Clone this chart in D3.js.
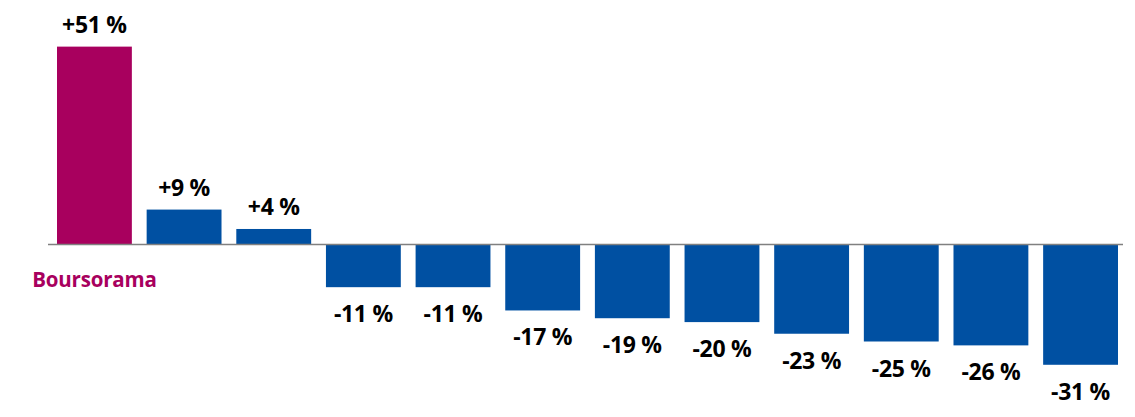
<!DOCTYPE html>
<html><head><meta charset="utf-8">
<script src="https://cdn.jsdelivr.net/npm/d3@7"></script>
<style>body{margin:0;background:#fff;} svg{display:block;}</style>
</head><body>
<svg id="chart" width="1135" height="417"></svg>
<script>
const categories = ["Boursorama","B2","B3","B4","B5","B6","B7","B8","B9","B10","B11","B12"];
const values = [51, 9, 4, -11, -11, -17, -19, -20, -23, -25, -26, -31];
const valueLabels = ["+51 %","+9 %","+4 %","-11 %","-11 %","-17 %","-19 %","-20 %","-23 %","-25 %","-26 %","-31 %"];
const shownCategory = "Boursorama";

const svg = d3.select("#chart");
const font = "'Open Sans', Lato, sans-serif";
const magenta = "#A8005E", blue = "#0050A2";

const x = d3.scaleBand().domain(categories).range([57, 1118]).paddingInner(0.165).paddingOuter(0);
const y = d3.scaleLinear().domain([-40, 60]).range([399.7, 11.7]);

svg.selectAll("rect.bar").data(values).join("rect")
  .attr("class","bar")
  .attr("x",(d,i)=>x(categories[i]))
  .attr("width",x.bandwidth())
  .attr("y",d=>Math.min(y(d),y(0)))
  .attr("height",d=>Math.abs(y(d)-y(0)))
  .attr("fill",(d,i)=>categories[i]===shownCategory?magenta:blue);

const axis = d3.axisBottom(x).tickSize(0).tickFormat(()=> "");
const ag = svg.append("g").attr("transform",`translate(0,${y(0)})`).call(axis);
ag.select(".domain").attr("d","M48,0H1123").attr("stroke","#808080").attr("stroke-width",1.5);

svg.selectAll("text.val").data(values).join("text")
  .attr("class","val")
  .attr("x",(d,i)=>x(categories[i])+x.bandwidth()/2)
  .attr("y",d=>d>=0? y(d)-14 : y(d)+35)
  .attr("text-anchor","middle")
  .attr("font-family",font).attr("font-weight","bold").attr("font-size",23)
  .attr("letter-spacing",-0.3)
  .attr("fill","#000")
  .text((d,i)=>valueLabels[i]);

svg.append("text")
  .attr("x",x(shownCategory)+x.bandwidth()/2)
  .attr("y",287)
  .attr("text-anchor","middle")
  .attr("font-family",font).attr("font-weight","bold").attr("font-size",20.5)
  .attr("letter-spacing",-0.2)
  .attr("fill",magenta)
  .text(shownCategory);
</script>
</body></html>
